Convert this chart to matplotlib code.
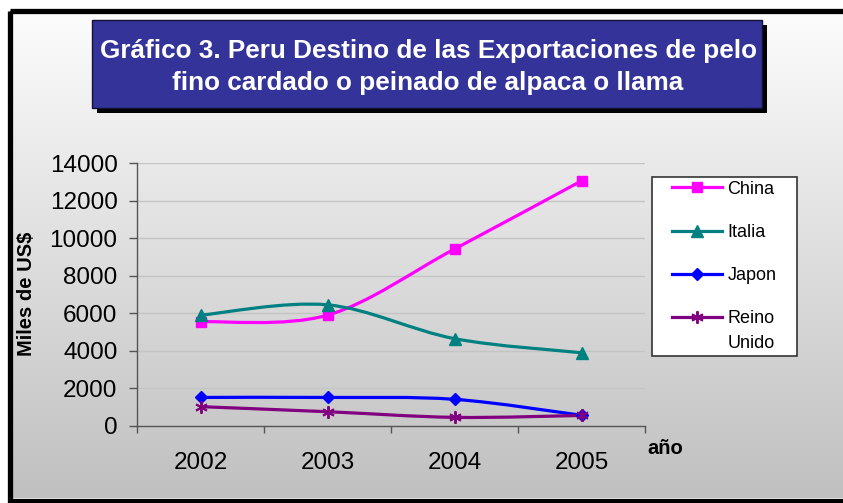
import numpy as np
import matplotlib

matplotlib.use("Agg")
from matplotlib import pyplot as plt
from matplotlib.lines import Line2D
from matplotlib.patches import PathPatch, Rectangle
from matplotlib.path import Path

years = ["2002", "2003", "2004", "2005"]
china = [5550, 5900, 9420, 13050]
italia = [5900, 6450, 4650, 3900]
japon = [1520, 1520, 1420, 570]
reino_unido = [1030, 760, 460, 560]

title = "Gráfico 3. Peru Destino de las Exportaciones de pelo\nfino cardado o peinado de alpaca o llama"
y_label = "Miles de US$"
x_label = "año"

series = [
    ("China", china, "#FF00FF", "s", 7, 1.0),
    ("Italia", italia, "#008080", "^", 8, 1.0),
    ("Japon", japon, "#0000FF", "D", 6.5, 1.0),
    ("Reino", reino_unido, "#800080", (6, 2, 0), 9, 1.4),
]

W, H = 843, 503
plt.rcParams["font.family"] = ["Liberation Sans", "DejaVu Sans"]


def smooth_path(xs, ys):
    # Excel-style smoothed line: cubic Bezier through the points
    pts = np.column_stack([xs, ys]).astype(float)
    n = len(pts)
    verts = [pts[0]]
    codes = [Path.MOVETO]
    for i in range(n - 1):
        p0 = pts[max(i - 1, 0)]
        p1 = pts[i]
        p2 = pts[i + 1]
        p3 = pts[min(i + 2, n - 1)]
        verts += [p1 + (p2 - p0) / 6, p2 - (p3 - p1) / 6, p2]
        codes += [Path.CURVE4] * 3
    return Path(verts, codes)


fig = plt.figure(figsize=(W / 100, H / 100), dpi=100)
fig.patch.set_facecolor("white")

# background layer in pixel coordinates
bg = fig.add_axes([0, 0, 1, 1], zorder=0)
bg.axis("off")
grad = np.linspace(252, 192, 256).reshape(-1, 1) / 255.0
bg.imshow(np.dstack([grad, grad, grad]), extent=(12, W, 498, 13), aspect="auto", interpolation="bilinear")
bg.set_xlim(0, W)
bg.set_ylim(H, 0)
bg.add_patch(Rectangle((9.5, 10.5), W + 20, 490, fill=False, edgecolor="black", linewidth=3.8, clip_on=False))

# title box with shadow
bg.add_patch(Rectangle((97, 25), 670, 88, facecolor="black", edgecolor="none"))
bg.add_patch(Rectangle((92, 20), 670, 88, facecolor="#333399", edgecolor="#111133", linewidth=1))
bg.text(428, 67, title, color="white", fontsize=18.8, fontweight="bold", ha="center", va="center",
        linespacing=1.4)

# legend box
bg.add_patch(Rectangle((652, 177), 145, 179, facecolor="white", edgecolor="#333333", linewidth=1.2))
bg.text(728, 343, "Unido", ha="left", va="center", fontsize=13)

ax = fig.add_axes([137 / W, (H - 426) / H, 508 / W, 263 / H], zorder=2)
ax.set_facecolor("none")
x = np.arange(len(years))
handles = []
for name, values, color, marker, ms, mew in series:
    ax.add_patch(PathPatch(smooth_path(x, values), facecolor="none", edgecolor=color, linewidth=2.3, zorder=3))
    ax.plot(x, values, linestyle="none", marker=marker, markersize=ms, color=color,
            markeredgecolor=color, markeredgewidth=mew, zorder=4, clip_on=False)
    handles.append(Line2D([], [], color=color, linewidth=2.3, marker=marker, markersize=ms,
                          markeredgecolor=color, markeredgewidth=mew))

ax.set_xlim(-0.5, len(years) - 0.5)
ax.set_ylim(0, 14000)
ax.set_yticks(np.arange(0, 14001, 2000))
ax.set_xticks(np.arange(-0.5, len(years), 1.0))
ax.set_xticklabels([])
ax.set_xticks(x, minor=True)
ax.set_xticklabels(years, minor=True)
ax.tick_params(axis="x", which="major", direction="out", length=5, width=1, color="#555555")
ax.tick_params(axis="x", which="minor", length=0, pad=19, labelsize=17.5)
ax.tick_params(axis="y", direction="out", length=6, width=1, color="#555555", pad=8, labelsize=17.5)
ax.grid(axis="y", color="#c4c4c4", linewidth=1)
ax.set_axisbelow(True)
for side in ("top", "right"):
    ax.spines[side].set_visible(False)
for side in ("left", "bottom"):
    ax.spines[side].set_color("#555555")
    ax.spines[side].set_linewidth(1)

fig.text(26.5 / W, 1 - 294 / H, y_label, rotation=90, ha="center", va="center", fontsize=14.5, fontweight="bold")
fig.text(647 / W, 1 - 449 / H, x_label, ha="left", va="center", fontsize=14.5, fontweight="bold")

ax.legend(handles, [s[0] for s in series], loc="upper left", bbox_to_anchor=(659 / W, 1 - 168 / H),
          bbox_transform=fig.transFigure, frameon=False, fontsize=13, handlelength=2.8,
          handletextpad=0.3, labelspacing=1.45, borderpad=0.2)

fig.savefig("out.png", dpi=100)
